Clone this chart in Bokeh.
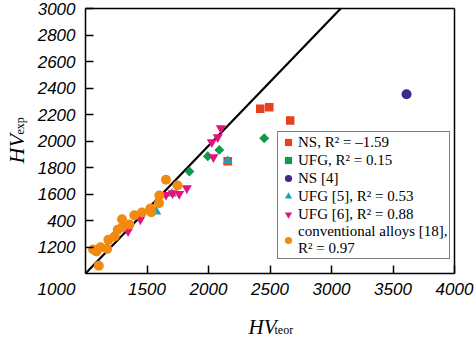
import math
from bokeh.plotting import figure
from bokeh.models import Range1d, FixedTicker, Label, Legend, LegendItem, LinearAxis
from bokeh.embed import file_html
from bokeh.resources import INLINE

# ---- data ----
ns_x = [2421, 2494, 2664, 2156]
ns_y = [2243, 2255, 2155, 1848]

ufg_x = [1845, 1994, 2088, 2453]
ufg_y = [1770, 1885, 1933, 2021]

ns4_x = [3610]
ns4_y = [2353]

ufg5_x = [1575, 1702, 2156]
ufg5_y = [1468, 1602, 1848]

ufg6_x = [1346, 1446, 1654, 1708, 1762, 1824, 2027, 2040, 2075, 2100]
ufg6_y = [1319, 1408, 1594, 1606, 1601, 1644, 1991, 1878, 2029, 2097]

conv_x = [1062, 1089, 1122, 1176, 1186, 1237, 1262, 1297, 1297, 1357,
          1397, 1459, 1527, 1535, 1600, 1597, 1654, 1748, 1108]
conv_y = [1181, 1166, 1198, 1186, 1254, 1279, 1330, 1410, 1349, 1370,
          1440, 1460, 1491, 1463, 1589, 1531, 1707, 1664, 1058]

diag_x = [1000, 3075]
diag_y = [1000, 3000]

x_lim = [1000, 4000]
y_lim = [1000, 3000]
x_ticks = [1500, 2000, 2500, 3000, 3500, 4000]
y_ticks = [1200, 1400, 1600, 1800, 2000, 2200, 2400, 2600, 2800, 3000]
y_tick_overrides = {1400: "400"}

labels = ["NS, R\u00b2 = \u20131.59", "UFG, R\u00b2 = 0.15", "NS [4]",
          "UFG [5], R\u00b2 = 0.53", "UFG [6], R\u00b2 = 0.88",
          "conventional alloys [18],\nR\u00b2 = 0.97"]

# ---- layout: the frame fills the canvas, the axes box sits at these pixels ----
W, H = 474, 337
BOX_L, BOX_R, BOX_T, BOX_B = 85, 454, 8, 273
xs = (x_lim[1] - x_lim[0]) / (BOX_R - BOX_L)
ys = (y_lim[1] - y_lim[0]) / (BOX_B - BOX_T)
x0 = x_lim[0] - BOX_L * xs
y0 = y_lim[0] - (H - BOX_B) * ys

p = figure(width=W, height=H, output_backend="svg", toolbar_location=None,
           x_range=Range1d(x0, x0 + W * xs), y_range=Range1d(y0, y0 + H * ys),
           x_axis_location=None, y_axis_location=None,
           min_border=0)
p.grid.visible = False
p.outline_line_color = None


def style_axis(ax):
    ax.major_label_text_font = "Liberation Sans"
    ax.major_label_text_font_style = "italic"
    ax.major_label_text_font_size = "17px"
    ax.major_label_text_color = "black"
    ax.major_tick_in = 8
    ax.major_tick_out = 0
    ax.minor_tick_line_color = None
    ax.axis_line_width = 1.5
    ax.major_tick_line_width = 1.5
    ax.axis_line_color = "black"
    ax.major_tick_line_color = "black"


xaxis = LinearAxis(fixed_location=y_lim[0], bounds=tuple(x_lim),
                   ticker=FixedTicker(ticks=x_ticks), major_label_standoff=9)
yaxis = LinearAxis(fixed_location=x_lim[0], bounds=tuple(y_lim),
                   ticker=FixedTicker(ticks=y_ticks), major_label_standoff=10,
                   major_label_overrides=y_tick_overrides)
top_axis = LinearAxis(fixed_location=y_lim[1], bounds=tuple(x_lim),
                      ticker=FixedTicker(ticks=[]))
right_axis = LinearAxis(fixed_location=x_lim[1], bounds=tuple(y_lim),
                        ticker=FixedTicker(ticks=[]))
for ax in (xaxis, yaxis, top_axis, right_axis):
    style_axis(ax)
p.add_layout(xaxis, "below")
p.add_layout(yaxis, "left")
p.add_layout(top_axis, "above")
p.add_layout(right_axis, "right")

p.line(diag_x, diag_y, line_color="black", line_width=2.2)

r_ns = p.scatter(ns_x, ns_y, marker="square", size=8.5, fill_color="#e8401c", line_color=None)
r_ufg = p.scatter(ufg_x, ufg_y, marker="square", size=7, angle=math.pi / 4,
                  fill_color="#0e9a48", line_color=None)
r_ns4 = p.scatter(ns4_x, ns4_y, marker="circle", size=10, fill_color="#3d2a8a", line_color=None)
r_ufg5 = p.scatter(ufg5_x, ufg5_y, marker="triangle", size=10, fill_color="#1ba0c4", line_color=None)
r_ufg6 = p.scatter(ufg6_x, ufg6_y, marker="inverted_triangle", size=10, fill_color="#e6127e", line_color=None)
r_conv = p.scatter(conv_x, conv_y, marker="circle", size=10, fill_color="#f08a10", line_color=None)

renderers = [r_ns, r_ufg, r_ns4, r_ufg5, r_ufg6, r_conv]
legend = Legend(items=[LegendItem(label=l, renderers=[r]) for l, r in zip(labels, renderers)],
                location=(277, H - 259))
legend.label_text_font = "Liberation Serif"
legend.label_text_font_size = "15px"
legend.label_text_color = "black"
legend.glyph_width = 18
legend.glyph_height = 18
legend.label_height = 17
legend.spacing = 0
legend.padding = 1
legend.margin = 0
legend.label_standoff = 1
legend.border_line_color = "black"
legend.border_line_width = 1.5
legend.background_fill_alpha = 1.0
p.add_layout(legend)

# axis titles (screen units from the canvas bottom-left, y upward)
serif = "Liberation Serif"
p.add_layout(Label(x=248, y=H - 326, x_units="screen", y_units="screen", text="HV",
                   text_font=serif, text_font_style="italic", text_font_size="21px",
                   text_color="black", text_baseline="alphabetic", text_align="left"))
p.add_layout(Label(x=274, y=H - 329.5, x_units="screen", y_units="screen", text="teor",
                   text_font=serif, text_font_size="12px", text_color="black",
                   text_baseline="alphabetic", text_align="left"))
p.add_layout(Label(x=56, y=H - 282, x_units="screen", y_units="screen", text="1000",
                   text_font="Liberation Sans", text_font_style="italic",
                   text_font_size="17px", text_color="black",
                   text_baseline="top", text_align="center"))
p.add_layout(Label(x=16, y=H - 163, x_units="screen", y_units="screen", text="HV",
                   angle=math.pi / 2, text_font=serif, text_font_style="italic",
                   text_font_size="22px", text_color="black",
                   text_baseline="alphabetic", text_align="left"))
p.add_layout(Label(x=19, y=H - 134, x_units="screen", y_units="screen", text="exp",
                   angle=math.pi / 2, text_font=serif, text_font_size="12px",
                   text_color="black", text_baseline="alphabetic", text_align="left"))

open("out.html", "w").write(file_html(p, INLINE))
